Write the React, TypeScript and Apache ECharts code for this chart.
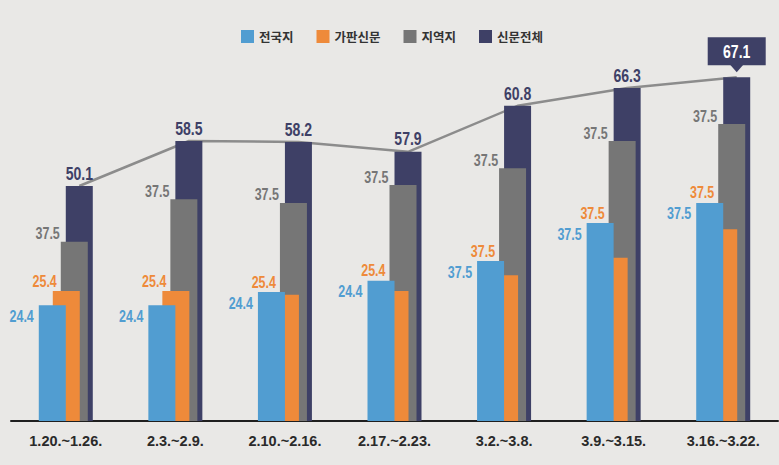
import React, { useEffect, useRef } from 'react';
import * as echarts from 'echarts';

const categories = ['1.20.~1.26.', '2.3.~2.9.', '2.10.~2.16.', '2.17.~2.23.', '3.2.~3.8.', '3.9.~3.15.', '3.16.~3.22.'];
const seriesNames = ['전국지', '가판신문', '지역지', '신문전체'];

// bar heights
const nationalValues = [24.7, 24.7, 27.5, 29.9, 34.1, 42.2, 46.5];
const streetValues = [27.7, 27.7, 26.9, 27.7, 31.1, 34.8, 40.9];
const regionalValues = [38.2, 47.3, 46.5, 50.3, 53.9, 59.7, 63.3];
const totalValues = [50.1, 59.7, 59.5, 57.4, 67.2, 71.0, 73.3];

// labels as printed on the picture
const nationalLabels = ['24.4', '24.4', '24.4', '24.4', '37.5', '37.5', '37.5'];
const streetLabels = ['25.4', '25.4', '25.4', '25.4', '37.5', '37.5', '37.5'];
const regionalLabels = ['37.5', '37.5', '37.5', '37.5', '37.5', '37.5', '37.5'];
const totalLabels = ['50.1', '58.5', '58.2', '57.9', '60.8', '66.3', '67.1'];

const BLUE = '#519dd1';
const ORANGE = '#ee8a3a';
const GRAY = '#767676';
const NAVY = '#3e4066';
const BG = '#e9e8e6';
const BAR_W = 27;
const NUM_FONT = "'Liberation Sans', Arial, sans-serif";

const App: React.FC = () => {
  const chartRef = useRef<HTMLDivElement | null>(null);

  useEffect(() => {
    document.body.style.margin = '0';
    document.body.style.background = BG;
    const chart = echarts.init(chartRef.current!, null, { renderer: 'svg' });

    // condensed bold numbers, squeezed horizontally like the original typeface
    const labelText = (x: number, y: number, text: string, color: string, align: string, size = 16) => ({
      type: 'text',
      x,
      y,
      scaleX: 0.78,
      style: {
        text,
        fill: color,
        fontSize: size,
        fontWeight: 'bold',
        fontFamily: NUM_FONT,
        align,
        verticalAlign: 'middle',
      },
    });

    // kind: 0 전국지, 1 가판신문, 2 지역지, 3 신문전체
    const barSeries = (kind: number, values: number[], labels: string[], color: string, offset: number, z: number) => ({
      type: 'custom',
      name: seriesNames[kind],
      z,
      itemStyle: { color },
      encode: { x: 0, y: 1 },
      data: values.map((v, i) => [i, v]),
      renderItem: (params: any, api: any) => {
        const i = api.value(0);
        const v = api.value(1);
        const top = api.coord([i, v]);
        const base = api.coord([i, 0]);
        const x = top[0] + offset;
        const children: any[] = [
          { type: 'rect', shape: { x, y: top[1], width: BAR_W, height: base[1] - top[1] }, style: { fill: color } },
        ];
        const text = labels[params.dataIndex];
        if (kind === 0) {
          children.push(labelText(x - 5, top[1] + 11, text, color, 'right'));
        } else if (kind === 1) {
          const hi = api.coord([i, Math.max(v, nationalValues[params.dataIndex])]);
          children.push(labelText(x + 4, hi[1] - 10, text, color, 'right'));
        } else if (kind === 2) {
          children.push(labelText(x - 1, top[1] - 8, text, color, 'right'));
        } else if (params.dataIndex === values.length - 1) {
          const cx = x + BAR_W / 2;
          children.push({ type: 'rect', shape: { x: cx - 29, y: top[1] - 40, width: 58, height: 28 }, style: { fill: NAVY } });
          children.push({
            type: 'polygon',
            shape: { points: [[cx - 7, top[1] - 13], [cx + 7, top[1] - 13], [cx, top[1] - 5]] },
            style: { fill: NAVY },
          });
          children.push(labelText(cx, top[1] - 26, text, '#ffffff', 'center', 18));
        } else {
          children.push(labelText(x + BAR_W / 2, top[1] - 13, text, color, 'center', 18));
        }
        return { type: 'group', children };
      },
    });

    // the gray line runs through the middle of the 신문전체 bars, which sit 13.5px right of each category centre
    const shift = 13.5 / 109.5;

    const option = {
      animation: false,
      backgroundColor: BG,
      legend: {
        data: seriesNames,
        top: 25,
        left: 236,
        icon: 'rect',
        itemWidth: 13,
        itemHeight: 13,
        itemGap: 23,
        textStyle: {
          fontSize: 12.5,
          fontWeight: 'bold',
          color: '#333',
          fontFamily: "'Noto Sans CJK KR', sans-serif",
        },
      },
      grid: { left: 11, right: 1, top: 45.8, bottom: 44 },
      xAxis: [
        {
          type: 'category',
          data: categories,
          axisTick: { show: false },
          axisLine: { lineStyle: { color: '#1f1f1f', width: 2 } },
          axisLabel: {
            margin: 12,
            fontSize: 14.5,
            fontWeight: 'bold',
            color: '#2a2a2a',
            fontFamily: "'Liberation Sans', Arial, sans-serif",
          },
        },
        {
          type: 'value',
          show: false,
          min: -0.5 - shift,
          max: 6.5 - shift,
        },
      ],
      yAxis: { type: 'value', min: 0, max: 80, show: false },
      series: [
        {
          type: 'line',
          xAxisIndex: 1,
          z: 1,
          symbol: 'none',
          lineStyle: { color: '#8c8c8c', width: 2.5 },
          data: totalValues.map((v, i) => [i, v]),
        },
        barSeries(3, totalValues, totalLabels, NAVY, 0, 2),
        barSeries(2, regionalValues, regionalLabels, GRAY, -5, 3),
        barSeries(1, streetValues, streetLabels, ORANGE, -13, 4),
        barSeries(0, nationalValues, nationalLabels, BLUE, -27, 5),
      ],
    };

    chart.setOption(option as any);

    return () => {
      chart.dispose();
    };
  }, []);

  return <div ref={chartRef} style={{ width: '779px', height: '465px' }} />;
};

export default App;
